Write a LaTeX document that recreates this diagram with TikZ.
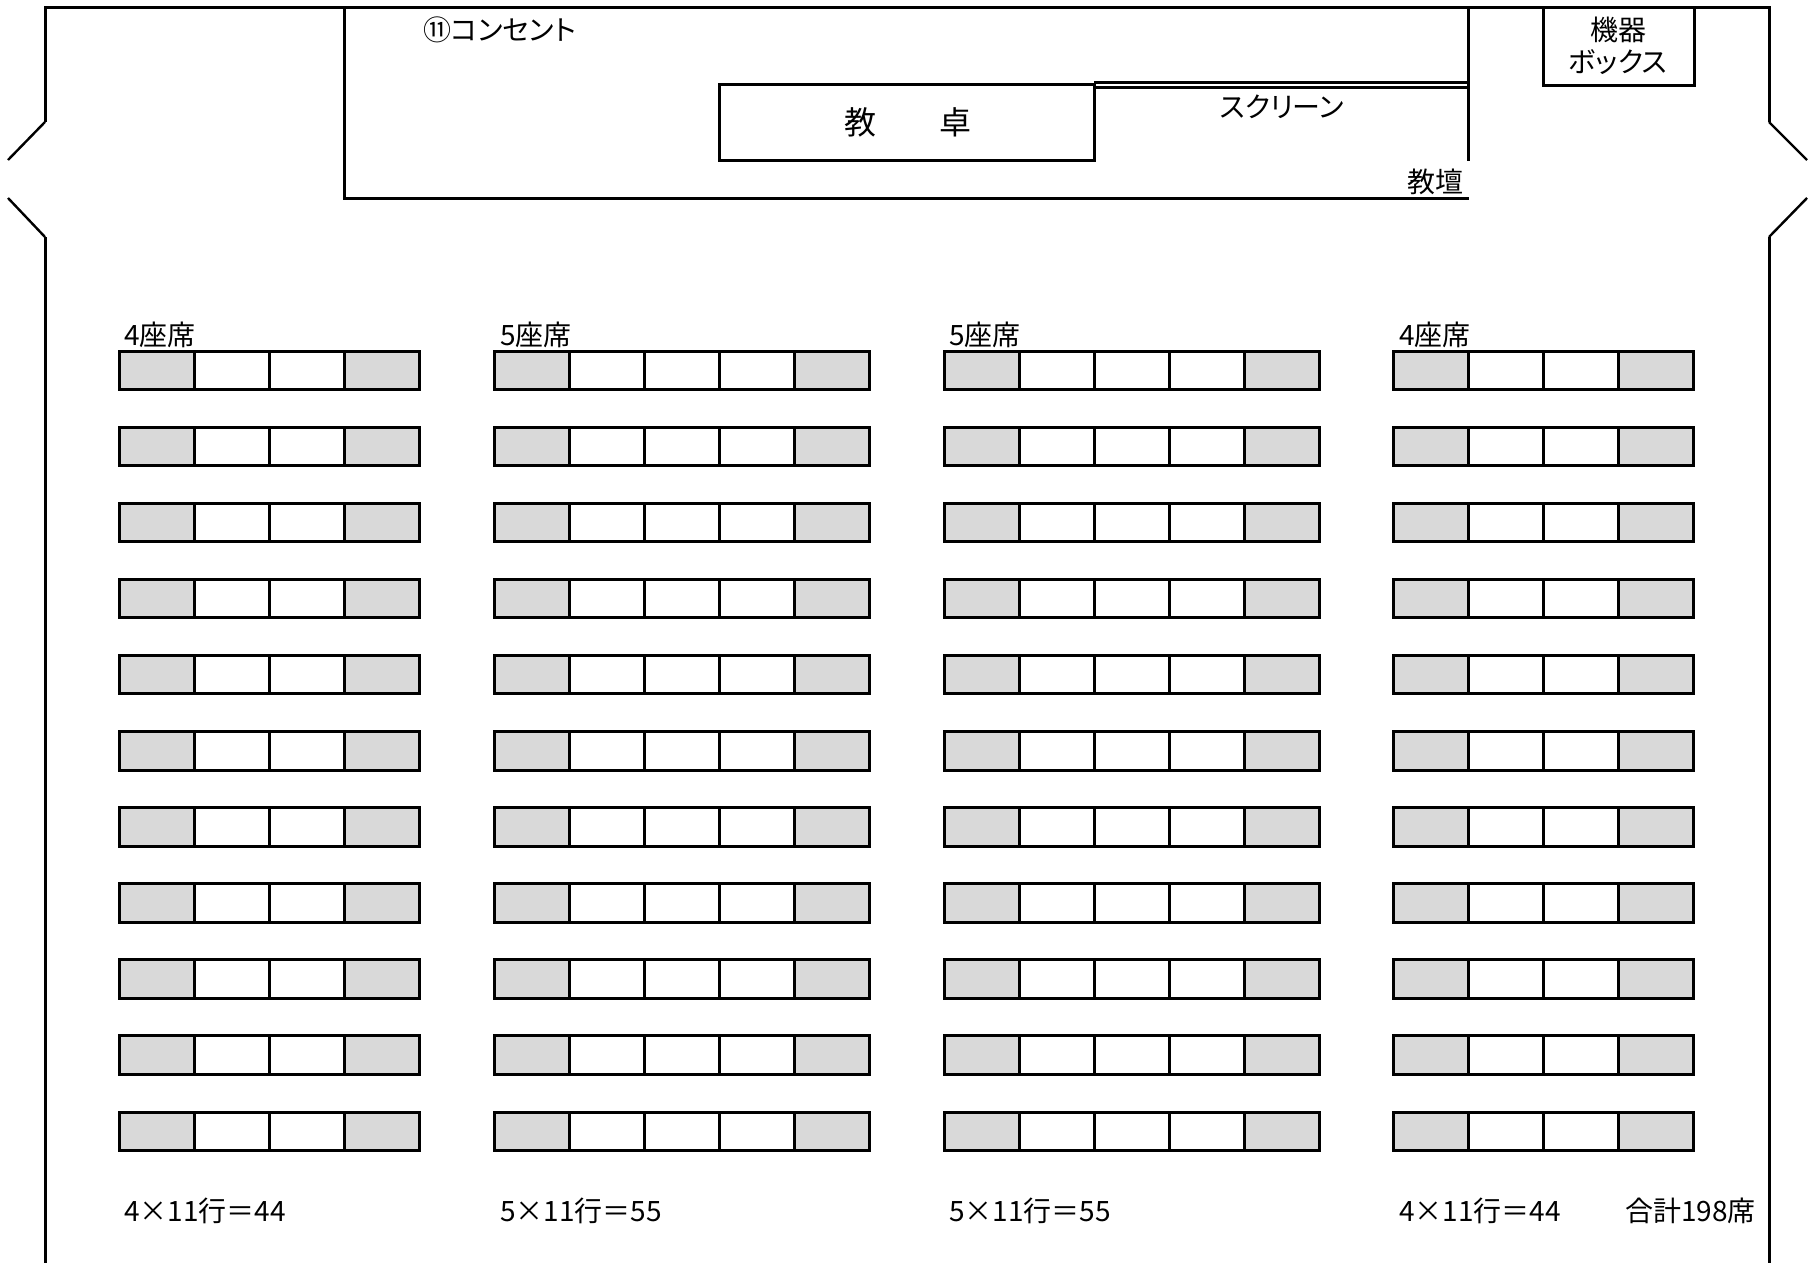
\documentclass[tikz,border=0pt]{standalone}
\usepackage{fontspec}
\setmainfont{Noto Sans CJK JP}
\newfontfamily\kanafont[RawFeature=+palt]{Noto Sans CJK JP}
\tikzset{
  wall/.style={line width=3pt},
  door/.style={line width=2.4pt},
  label/.style={font=\fontsize{28}{32}\selectfont, inner sep=0pt, anchor=west},
  tag/.style={font=\fontsize{28}{32}\selectfont, inner sep=0pt, align=center},
  desk/.style={font=\fontsize{32}{36}\selectfont, inner sep=0pt}
}
\definecolor{seatgray}{HTML}{D9D9D9}
\begin{document}
\begin{tikzpicture}[x=1pt,y=-1pt]
\useasboundingbox (0,0) rectangle (1819,1263);
% Draw the room walls and the two doors
\draw[wall] (45,122) -- (45,8) -- (1769,8) -- (1769,122);
\draw[wall] (45,237) -- (45,1263);
\draw[wall] (1769,237) -- (1769,1263);
\draw[door] (45,122) -- (8,160);
\draw[door] (45,237) -- (8,198);
\draw[door] (1769,122) -- (1807,160);
\draw[door] (1769,237) -- (1807,198);
% Draw the platform, the desk, the screen and the box
\draw[wall] (344.5,8) -- (344.5,198) -- (1469,198);
\draw[wall] (1468.5,8) -- (1468.5,161);
\draw[wall] (719,84) rectangle (1094,160);
\draw[wall] (1094,82) -- (1468,82);
\draw[wall] (1094,87) -- (1468,87);
\draw[wall] (1543.5,8) -- (1543.5,85) -- (1694,85) -- (1694,8);
% Draw the seats, one block after the other
\foreach \bx/\nseat/\seatw in {119/4/75.2,494.5/5/75,944/5/75,1393/4/75.2}
{
  \foreach \y in {1,...,11}
  {
    \foreach \x in {1,...,\nseat}
    {
      \pgfmathsetmacro{\sx}{\bx+\seatw*(\x-1)}
      \pgfmathsetmacro{\sy}{351+76.1*(\y-1)}
      % Only the seats at both ends of a row are gray
      \ifnum\x=1 \def\seatfill{seatgray}\else
        \ifnum\x=\nseat \def\seatfill{seatgray}\else \def\seatfill{white}\fi
      \fi
      \draw[wall, fill=\seatfill] (\sx,\sy) rectangle ++(\seatw,38.5);
    }
  }
}
% Labels above and below the blocks
\node[label] (top1) at (124,335) {4座席};
\node[label] (top2) at (500,335) {5座席};
\node[label] (top3) at (949,335) {5座席};
\node[label] (top4) at (1399,335) {4座席};
\node[label] (sum1) at (124,1211) {4×11行＝44};
\node[label] (sum2) at (500,1211) {5×11行＝55};
\node[label] (sum3) at (949,1211) {5×11行＝55};
\node[label] (sum4) at (1399,1211) {4×11行＝44};
\node[label] (total) at (1625,1211) {合計198席};
% Labels at the front of the room
\node[label] (outlet) at (423,30) {⑪{\kanafont コンセント}};
\node[desk] (desk1) at (860,122) {教};
\node[desk] (desk2) at (955,122) {卓};
\node[tag] (screen) at (1282,107) {\kanafont スクリーン};
\node[tag] (platform) at (1435,182) {教壇};
\node[tag] (box1) at (1618,30) {機器};
\node[tag] (box2) at (1618,62) {\kanafont ボックス};
\end{tikzpicture}
\end{document}
